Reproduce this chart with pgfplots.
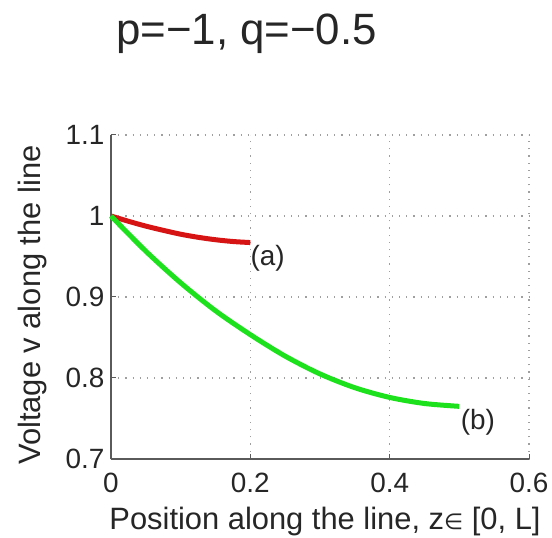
\documentclass[border=0pt]{standalone}
\usepackage{pgfplots}
\pgfplotsset{compat=1.18}
\usepackage{fontspec}
\setmainfont{Liberation Sans}
\newfontfamily\dejavu{DejaVu Sans}
\definecolor{cred}{RGB}{215,20,20}
\definecolor{cgreen}{RGB}{30,225,30}
\definecolor{axgray}{RGB}{90,90,90}
\begin{document}
\begin{tikzpicture}[x=1bp,y=1bp]
\path[use as bounding box] (-111,-79) rectangle (441,459);
\begin{axis}[
  at={(0,0)}, anchor=origin,
  scale only axis, width=418bp, height=324bp,
  xmin=0, xmax=0.6, ymin=0.7, ymax=1.1,
  xtick={0,0.2,0.4,0.6}, ytick={0.7,0.8,0.9,1,1.1},
  xticklabels={0,0.2,0.4,0.6}, yticklabels={0.7,0.8,0.9,1,1.1},
  axis lines=left, axis line style={-, axgray, line width=1.2bp},
  tick align=inside, major tick length=5bp, tick style={axgray, line width=1bp},
  grid=major, grid style={gray!75, line width=1.1bp, dash pattern=on 1.2bp off 6bp},
  ticklabel style={font=\fontsize{28}{30}\selectfont, text=black!85},
  /pgf/number format/assume math mode=true,
  xticklabel style={yshift=-11bp},
  yticklabel style={xshift=-3bp},
  xlabel={Position along the line, z{\dejavu\fontsize{22}{24}\selectfont ∈} [0, L]},
  ylabel={Voltage v along the line},
  every axis x label/.style={at={(axis description cs:0.512,0)}, yshift=-63bp, anchor=center, font=\fontsize{31}{33}\selectfont, text=black!85},
  every axis y label/.style={at={(axis description cs:0,0.475)}, xshift=-78bp, anchor=center, rotate=90, font=\fontsize{31}{33}\selectfont, text=black!85},
  clip=false,
]
\addplot[cred, line width=5bp, smooth] coordinates {
(0,1) (0.025,0.9935) (0.05,0.9875) (0.075,0.9823) (0.1,0.9775) (0.125,0.9737) (0.15,0.9707) (0.175,0.9685) (0.2,0.9672)};
\addplot[cgreen, line width=5bp, smooth] coordinates {
(0,1) (0.05,0.9565) (0.1,0.9175) (0.15,0.8830) (0.2,0.8535) (0.25,0.8270) (0.3,0.8050) (0.35,0.7880) (0.4,0.7760) (0.45,0.7685) (0.5,0.7650)};
\node[anchor=west, inner sep=0pt, font=\fontsize{28}{30}\selectfont, text=black!85] at (axis cs:0.2,0.948) {(a)};
\node[anchor=west, inner sep=0pt, font=\fontsize{28}{30}\selectfont, text=black!85] at (axis cs:0.502,0.7457) {(b)};
\end{axis}
\node[anchor=base, inner sep=0pt, font=\fontsize{44}{46}\selectfont, text=black!85] at (135.5,414) {p=−1, q=−0.5};
\end{tikzpicture}
\end{document}
